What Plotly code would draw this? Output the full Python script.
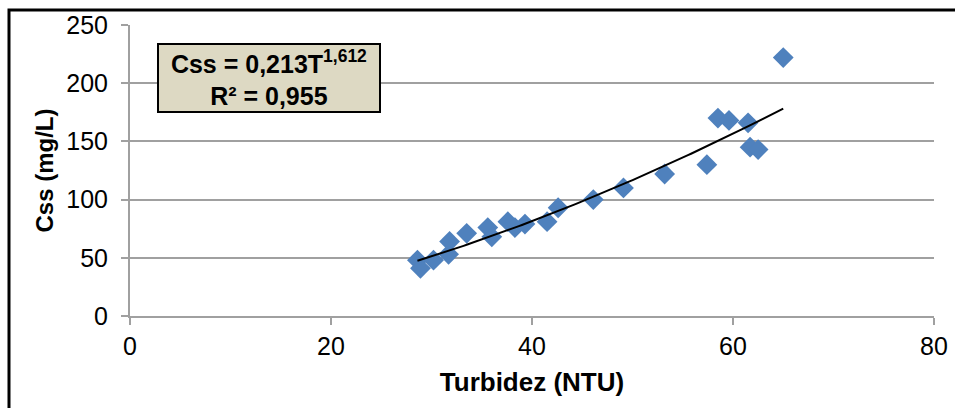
import numpy as np
import plotly.graph_objects as go

# Data
turbidez = [28.6, 28.9, 30.2, 31.7, 31.8, 33.5, 35.6, 36.0, 37.6, 38.3, 39.3,
            41.5, 42.6, 46.1, 49.1, 53.2, 57.4, 58.5, 59.6, 61.5, 61.7, 62.5, 65.0]
css = [48, 41, 48, 53, 64, 71, 76, 68, 81, 76, 79,
       81, 93, 100, 110, 122, 130, 170, 168, 166, 145, 143, 222]

# Power trend line parameters (as shown on the chart)
fit_a = 0.213
fit_b = 1.612
x_ticks = [0, 20, 40, 60, 80]
y_ticks = [0, 50, 100, 150, 200, 250]

FONT = "Arial, Liberation Sans, sans-serif"
GRID = "#A0A0A0"

xfit = np.linspace(min(turbidez), max(turbidez), 120)
yfit = fit_a * xfit ** fit_b

fig = go.Figure()
fig.add_trace(go.Scatter(
    x=turbidez, y=css, mode="markers",
    marker=dict(symbol="diamond", size=16, color="#4F81BD", line=dict(width=0)),
    showlegend=False, hoverinfo="x+y"))
fig.add_trace(go.Scatter(
    x=xfit, y=yfit, mode="lines",
    line=dict(color="black", width=2), showlegend=False, hoverinfo="skip"))

fig.update_layout(
    width=955, height=408, autosize=False,
    margin=dict(l=130, r=21, t=25, b=92, autoexpand=False),
    paper_bgcolor="white", plot_bgcolor="white",
    font=dict(family=FONT, color="black"),
    xaxis=dict(
        range=[0, 80], tickvals=x_ticks, ticktext=[str(v) for v in x_ticks],
        showgrid=False, zeroline=False, automargin=False,
        showline=True, linecolor=GRID, linewidth=2,
        ticks="outside", ticklen=7, tickwidth=2, tickcolor=GRID,
        tickfont=dict(size=25, family=FONT, color="black"),
        title=dict(text="<b>Turbidez (NTU)</b>", font=dict(size=26, family=FONT), standoff=14),
    ),
    yaxis=dict(
        range=[0, 250], tickvals=y_ticks, ticktext=[str(v) for v in y_ticks],
        showgrid=True, gridcolor=GRID, gridwidth=2, zeroline=False, automargin=False,
        showline=True, linecolor=GRID, linewidth=2,
        ticks="outside", ticklen=7, tickwidth=2, tickcolor=GRID,
        ticklabelstandoff=8,
        tickfont=dict(size=25, family=FONT, color="black"),
        title=dict(text="<b>Css (mg/L)</b>", font=dict(size=24, family=FONT), standoff=6),
    ),
    annotations=[dict(
        xref="paper", yref="paper", x=0.173, y=0.818,
        xanchor="center", yanchor="middle",
        text="<b>Css = 0,213T<sup>1,612</sup></b><br><b>R² = 0,955</b>",
        font=dict(size=25, family=FONT, color="black"),
        showarrow=False, align="center",
        bgcolor="#DDD9C3", bordercolor="black", borderwidth=2, borderpad=0,
        width=220, height=66,
    )],
    shapes=[dict(
        type="path", xref="paper", yref="paper",
        path="M -0.1505 -0.4 L -0.1505 1.0515 L 1.1 1.0515",
        line=dict(color="black", width=3),
    )],
)

fig.write_html("out.html")
